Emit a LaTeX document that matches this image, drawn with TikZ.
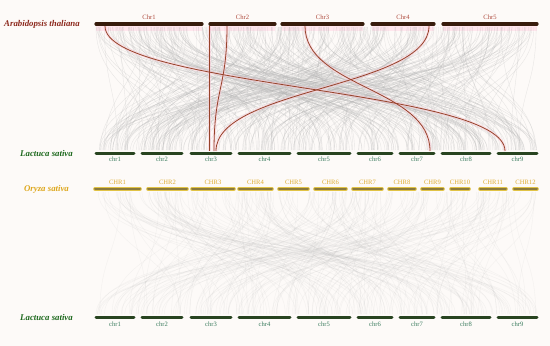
\documentclass[tikz,border=0pt]{standalone}
\usepackage{fontspec}
\setmainfont{Liberation Serif}
\definecolor{bgc}{RGB}{253,250,248}
\definecolor{athc}{RGB}{140,40,28}
\definecolor{achr}{RGB}{175,75,62}
\definecolor{abarc}{RGB}{55,28,12}
\definecolor{lsc}{RGB}{30,105,30}
\definecolor{lchr}{RGB}{60,125,95}
\definecolor{lbarc}{RGB}{40,68,32}
\definecolor{osc}{RGB}{222,168,30}
\definecolor{ochr}{RGB}{222,172,50}
\definecolor{obarc}{RGB}{140,122,60}
\definecolor{obord}{RGB}{225,195,70}
\definecolor{redl}{RGB}{150,68,42}
\definecolor{pinkg}{RGB}{255,200,215}
\begin{document}
\begin{tikzpicture}[x=1pt,y=-1pt,
  lab/.style={font=\fontsize{6.6}{7}\selectfont, inner sep=0pt},
  sp/.style={font=\fontsize{8.8}{10}\selectfont\bfseries\itshape, inner sep=0pt},
  abar/.style={line width=3.2pt, line cap=round, draw=abarc},
  lbar/.style={line width=3pt, line cap=round, draw=lbarc},
  obarout/.style={line width=3.6pt, line cap=round, draw=obord},
  obarin/.style={line width=2pt, line cap=round, draw=obarc},
  glink/.style={draw=gray!60, line width=0.4pt, opacity=0.28},
  flink/.style={draw=gray!60, line width=0.4pt, opacity=0.13},
  rglow/.style={draw=pinkg, line width=3pt, opacity=0.45},
  rlink/.style={draw=redl, line width=0.8pt}]
\fill[bgc] (0,0) rectangle (550,346);
\useasboundingbox (0,0) rectangle (550,346);
% pink bands under Arabidopsis chromosomes
\foreach \a/\b in {96/202,210/275,282/363,372/434,443/537}{
  \fill[pinkg!45] (\a,26) rectangle (\b,31);
}
% gray links Arabidopsis - Lactuca
\pgfmathsetseed{7}
\foreach \i in {1,...,420}{
  \pgfmathsetmacro\xa{96+441*rnd}
  \pgfmathsetmacro\xb{96+441*rnd}
  \coordinate (ta\i) at (\xa,27);
  \coordinate (tb\i) at (\xb,150);
  \draw[glink] (ta\i) .. controls (\xa,88) and (\xb,88) .. (tb\i);
}
% gray links Oryza - Lactuca
\foreach \i in {1,...,260}{
  \pgfmathsetmacro\xa{96+441*rnd}
  \pgfmathsetmacro\xb{96+441*rnd}
  \coordinate (oa\i) at (\xa,192);
  \coordinate (ob\i) at (\xb,314);
  \draw[flink] (oa\i) .. controls (\xa,253) and (\xb,253) .. (ob\i);
}
% red highlighted links
\coordinate (r1a) at (105,26); \coordinate (r1b) at (505,151);
\coordinate (r2a) at (209,26); \coordinate (r2b) at (209,151);
\coordinate (r3a) at (227,26); \coordinate (r3b) at (214,151);
\coordinate (r4a) at (305,26); \coordinate (r4b) at (430,151);
\coordinate (r5a) at (429,26); \coordinate (r5b) at (216,151);
\foreach \p/\q/\xa/\xb in {r1a/r1b/105/505, r2a/r2b/209/209, r3a/r3b/227/214, r4a/r4b/305/430, r5a/r5b/429/216}{
  \draw[rglow] (\p) .. controls (\xa,88) and (\xb,88) .. (\q);
}
\foreach \p/\q/\xa/\xb in {r1a/r1b/105/505, r2a/r2b/209/209, r3a/r3b/227/214, r4a/r4b/305/430, r5a/r5b/429/216}{
  \draw[rlink] (\p) .. controls (\xa,88) and (\xb,88) .. (\q);
}
% Arabidopsis chromosomes
\foreach \a/\b/\n in {96/202/Chr1,210/275/Chr2,282/363/Chr3,372/434/Chr4,443/537/Chr5}{
  \draw[abar] (\a,24) -- (\b,24);
  \node[lab, text=achr] (A\n) at ({(\a+\b)/2},17.5) {\n};
}
% Lactuca chromosomes (upper and lower)
\foreach \a/\b/\n in {96/134/chr1,142/182/chr2,191/231/chr3,239/290/chr4,298/350/chr5,358/392/chr6,400/434/chr7,442/490/chr8,498/537/chr9}{
  \draw[lbar] (\a,153) -- (\b,153);
  \node[lab, text=lchr] (L\n) at ({(\a+\b)/2},159.5) {\n};
  \draw[lbar] (\a,317) -- (\b,317);
  \node[lab, text=lchr] (M\n) at ({(\a+\b)/2},324) {\n};
}
% Oryza chromosomes
\foreach \a/\b/\n in {95/140/CHR1,148/187/CHR2,192/234/CHR3,239/272/CHR4,279/308/CHR5,315/346/CHR6,353/382/CHR7,389/415/CHR8,422/443/CHR9,451/469/CHR10,480/506/CHR11,514/537/CHR12}{
  \draw[obarout] (\a,189) -- (\b,189);
  \draw[obarin] (\a,189) -- (\b,189);
  \node[lab, text=ochr] (O\n) at ({(\a+\b)/2},182.5) {\n};
}
% species labels
\node[sp, text=athc] (ath) at (42,24.5) {Arabidopsis thaliana};
\node[sp, text=lsc] (ls1) at (46.5,153.5) {Lactuca sativa};
\node[sp, text=osc] (os) at (46.5,189.5) {Oryza sativa};
\node[sp, text=lsc] (ls2) at (46.5,317.5) {Lactuca sativa};
\end{tikzpicture}
\end{document}
